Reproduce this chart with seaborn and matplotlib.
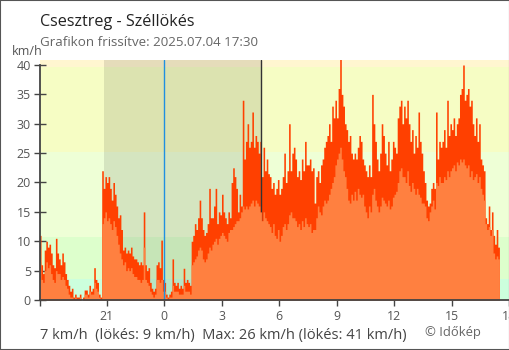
import numpy as np
import pandas as pd
import matplotlib
matplotlib.use("Agg")
import matplotlib.pyplot as plt
from matplotlib.patches import Rectangle
import seaborn as sns

# 5-minute readings (km/h), one list per hour, first hour starts 17:35 the previous day
gust_1735 = [11, 6, 4.5, 8.5, 10, 9, 9.5, 8, 6, 5.5, 10.5, 8]
wind_1735 = [6.5, 3.5, 3, 5, 6.5, 5.5, 6, 4.5, 3.5, 3, 5, 4.5]
gust_1835 = [7, 6, 8, 6.5, 4.5, 3.5, 2.5, 1.5, 2, 0.5, 1, 0.5]
wind_1835 = [4.5, 3.5, 4, 3.5, 2.5, 2, 1, 0.5, 0.5, 0, 0.5, 0]
gust_1935 = [0.5, 1, 0, 0.5, 1.7, 1.7, 1, 2.5, 1.5, 2, 5.5, 3.5]
wind_1935 = [0, 0.5, 0, 0, 1, 1, 0.5, 1.5, 1, 1, 3, 2]
gust_2035 = [3, 1, 0.5, 22, 19, 21, 20, 21, 19, 17, 20, 18]
wind_2035 = [1.5, 0.5, 0, 13, 14, 15, 13.5, 14, 13, 12, 13.5, 12.5]
gust_2135 = [16, 14, 14.5, 12, 8.5, 9, 8, 8.5, 8, 9, 7.5, 7]
wind_2135 = [11, 9.5, 8, 7, 6, 6.5, 5, 5.5, 5, 5.5, 4.5, 4]
gust_2235 = [7, 6.5, 6, 6.5, 6, 15, 6, 5, 5.5, 3, 2, 1.5]
wind_2235 = [4, 3.5, 3.5, 3, 3.5, 9, 3.5, 3, 2.5, 1.5, 1, 0.5]
gust_2335 = [2, 6, 6.5, 5.5, 10.2, 3.5, 3, 1, 0.5, 1, 1.5, 7]
wind_2335 = [1, 3.5, 3.5, 3, 3.5, 1.5, 1.5, 0.5, 0, 0.5, 0.5, 2.5]
gust_0035 = [3, 2.5, 3, 2, 2.5, 2, 5.4, 3, 3.5, 3, 2.5, 10]
wind_0035 = [1.5, 1.5, 1.5, 1, 1, 1, 2.5, 1.5, 1.5, 1.5, 1, 6]
gust_0135 = [11, 13, 12, 14, 17, 14, 12, 11, 11.5, 13, 19, 14]
wind_0135 = [6.5, 7, 7.5, 8.5, 9, 8.5, 7, 6.5, 7, 8, 9, 8.5]
gust_0235 = [14, 16, 19, 13, 15, 14.5, 18, 15, 14, 13, 15, 14]
wind_0235 = [9.5, 10, 10.5, 9.5, 10.5, 11, 11.5, 11, 10.5, 10, 11.5, 12]
gust_0335 = [20, 22.5, 21, 19, 15, 18, 16, 34, 24, 27, 30, 26]
wind_0335 = [12, 12.5, 13, 13.5, 13.5, 14, 15, 16, 15.5, 16, 15.5, 16]
gust_0435 = [27, 32, 26, 28, 27, 25, 27, 21, 26, 22, 24, 21.5]
wind_0435 = [16.5, 17, 16, 17, 16.5, 16, 15, 13.5, 15, 14, 13.5, 13]
gust_0535 = [21, 19, 20, 18, 19, 20.5, 18, 19, 21, 25, 20, 22]
wind_0535 = [12.5, 11.5, 13, 11, 10.5, 12, 10, 11, 12.5, 13, 12, 13]
gust_0635 = [30, 22, 25, 26, 24, 21, 22, 20.5, 24, 22, 27, 23]
wind_0635 = [14.5, 15, 14, 14, 13.5, 12.5, 13, 12, 13.5, 12.5, 14, 13]
gust_0735 = [23, 24, 22, 22.5, 16.5, 21, 22, 20, 23, 24, 26, 27]
wind_0735 = [12.5, 13, 11.5, 12, 12, 14, 16, 15, 14.5, 16, 17, 16.5]
gust_0835 = [28, 30, 27, 33, 31, 34, 31, 36, 41, 35, 33, 30]
wind_0835 = [17, 18, 19, 20, 21, 23, 24, 25, 26, 24, 22, 21]
gust_0935 = [29, 27, 28, 25, 24, 25, 24, 26, 28, 27, 24, 23]
wind_0935 = [19, 17, 16.5, 18, 17, 18.5, 17, 19, 18, 17.5, 18, 16]
gust_1035 = [22, 21, 23, 21, 35, 30, 27, 24, 22, 25, 30, 28]
wind_1035 = [15, 14, 16, 15, 18, 19, 17, 16, 15, 16, 17.5, 17]
gust_1135 = [25, 23, 27, 22, 24, 27, 26, 25, 31, 33, 34, 30]
wind_1135 = [16.5, 16, 17, 15.5, 16, 17.5, 18, 18.5, 20, 22, 22.5, 21]
gust_1235 = [33, 31, 34, 30, 27, 29, 25, 28, 26, 32, 27, 25]
wind_1235 = [21, 20, 22, 19.5, 18.5, 20, 19, 18, 19, 18, 17.5, 16.5]
gust_1335 = [22, 20, 17, 16, 16.5, 19, 20, 19, 32, 24, 27, 26]
wind_1335 = [16.5, 16, 14, 13.5, 15, 16, 17, 15.5, 20, 19.5, 21, 20]
gust_1435 = [27, 29, 26, 34, 28, 30, 29, 31, 28, 30, 31, 35]
wind_1435 = [20, 21, 20.5, 22, 21, 22, 22.5, 23, 22, 23.5, 23, 24]
gust_1535 = [36, 40, 34, 35, 36, 33, 34, 30, 28, 31, 27, 30]
wind_1535 = [23.5, 24, 23, 22.5, 23, 21, 22, 20.5, 21, 21.5, 20, 21]
gust_1635 = [24, 23, 22, 14, 13, 16, 12, 15, 11, 9.5, 12, 9]
wind_1635 = [19, 18, 17, 13, 12, 12.5, 11, 12, 8, 7, 7.5, 7]

gust = (gust_1735 + gust_1835 + gust_1935 + gust_2035 + gust_2135 + gust_2235
        + gust_2335 + gust_0035 + gust_0135 + gust_0235 + gust_0335 + gust_0435
        + gust_0535 + gust_0635 + gust_0735 + gust_0835 + gust_0935 + gust_1035
        + gust_1135 + gust_1235 + gust_1335 + gust_1435 + gust_1535 + gust_1635)
wind = (wind_1735 + wind_1835 + wind_1935 + wind_2035 + wind_2135 + wind_2235
        + wind_2335 + wind_0035 + wind_0135 + wind_0235 + wind_0335 + wind_0435
        + wind_0535 + wind_0635 + wind_0735 + wind_0835 + wind_0935 + wind_1035
        + wind_1135 + wind_1235 + wind_1335 + wind_1435 + wind_1535 + wind_1635)

x_ticks = [-3, 0, 3, 6, 9, 12, 15, 18]
x_tick_labels = ["21", "0", "3", "6", "9", "12", "15", "18"]
y_ticks = [0, 5, 10, 15, 20, 25, 30, 35, 40]

# wind-class bands (1, 3, 7, 11 m/s expressed in km/h)
band_edges = [0, 3.6, 10.8, 25.2, 39.6, 45]
band_colors = ["#ccffdd", "#ddffcc", "#eeffd6", "#f6fdc4", "#fff6d0"]

sunset = -(3 + 9 / 60)     # 20:51
sunrise = 5 + 4 / 60       # 05:04

step = 5 / 60
start = -6.5
times = start + step * (np.arange(len(gust)) + 0.5)
edges = [float(e) for e in start + step * np.arange(len(gust) + 1)]
df = pd.DataFrame({"ido": times, "lokes": gust, "szel": wind})

sns.set_theme(style="white")
plt.rcParams["font.family"] = ["Open Sans", "DejaVu Sans"]

W, H = 510, 350
fig = plt.figure(figsize=(W / 100, H / 100), dpi=100)
ax = fig.add_axes([40 / W, 50 / H, 469 / W, 240 / H])

for lo, hi, c in zip(band_edges[:-1], band_edges[1:], band_colors):
    ax.axhspan(lo, hi, color=c, lw=0, zorder=0)
ax.axvspan(sunset, sunrise, color="black", alpha=0.1, lw=0, zorder=1)

sns.histplot(data=df, x="ido", weights="lokes", bins=edges, element="step",
             fill=True, color="#ff4000", alpha=1, linewidth=0, ax=ax, zorder=3)
ax.axvline(sunrise, color="#333333", lw=1, zorder=4)
sns.histplot(data=df, x="ido", weights="szel", bins=edges, element="step",
             fill=True, color="#ff8040", alpha=1, linewidth=0, ax=ax, zorder=5)
ax.axvline(0, color="#2090e0", lw=1, zorder=6)

ax.set_xlim(-6.47, 17.95)
ax.set_ylim(0, 40.85)
ax.set_xlabel("")
ax.set_ylabel("")

ax.set_yticks(y_ticks)
ax.set_yticklabels([str(v) for v in y_ticks])
ax.set_xticks(x_ticks)
ax.set_xticklabels(x_tick_labels)
ax.set_xticks([-6.47], minor=True)
ax.tick_params(axis="y", direction="inout", length=9, width=1, color="#444444",
               labelsize=9, labelcolor="#555555", pad=2, left=True)
ax.tick_params(axis="x", which="both", direction="out", length=4.5, width=1,
               color="#444444", labelsize=8.8, labelcolor="#555555", pad=3, bottom=True)
for tk, v in zip(ax.xaxis.get_major_ticks(), x_ticks):
    if v == 0:
        tk.tick1line.set_color("#2090e0")

for side in ("top", "right"):
    ax.spines[side].set_visible(False)
for side in ("left", "bottom"):
    ax.spines[side].set_color("#444444")
    ax.spines[side].set_linewidth(1.3)
    ax.spines[side].set_zorder(7)
ax.spines["left"].set_bounds(0, 40)

def px(x, y):
    return x / W, 1 - y / H

fig.text(*px(40, 26), "Csesztreg - Széllökés", fontsize=11.6, color="#222222", va="baseline")
fig.text(*px(40, 46), "Grafikon frissítve: 2025.07.04 17:30", fontsize=9.6,
         color="#666666", va="baseline")
fig.text(*px(12, 55), "km/h", fontsize=9, color="#555555", va="baseline")
fig.text(*px(40, 339), "7 km/h  (lökés: 9 km/h)  Max: 26 km/h (lökés: 41 km/h)",
         fontsize=10.55, color="#444444", va="baseline")
fig.text(*px(425, 336), "© Időkép", fontsize=9.4, color="#666666", va="baseline")

fig.patches.append(Rectangle((0, 0), 1, 1, transform=fig.transFigure, fill=False,
                             edgecolor="#555555", lw=1.5))

fig.savefig("out.png", dpi=100)
